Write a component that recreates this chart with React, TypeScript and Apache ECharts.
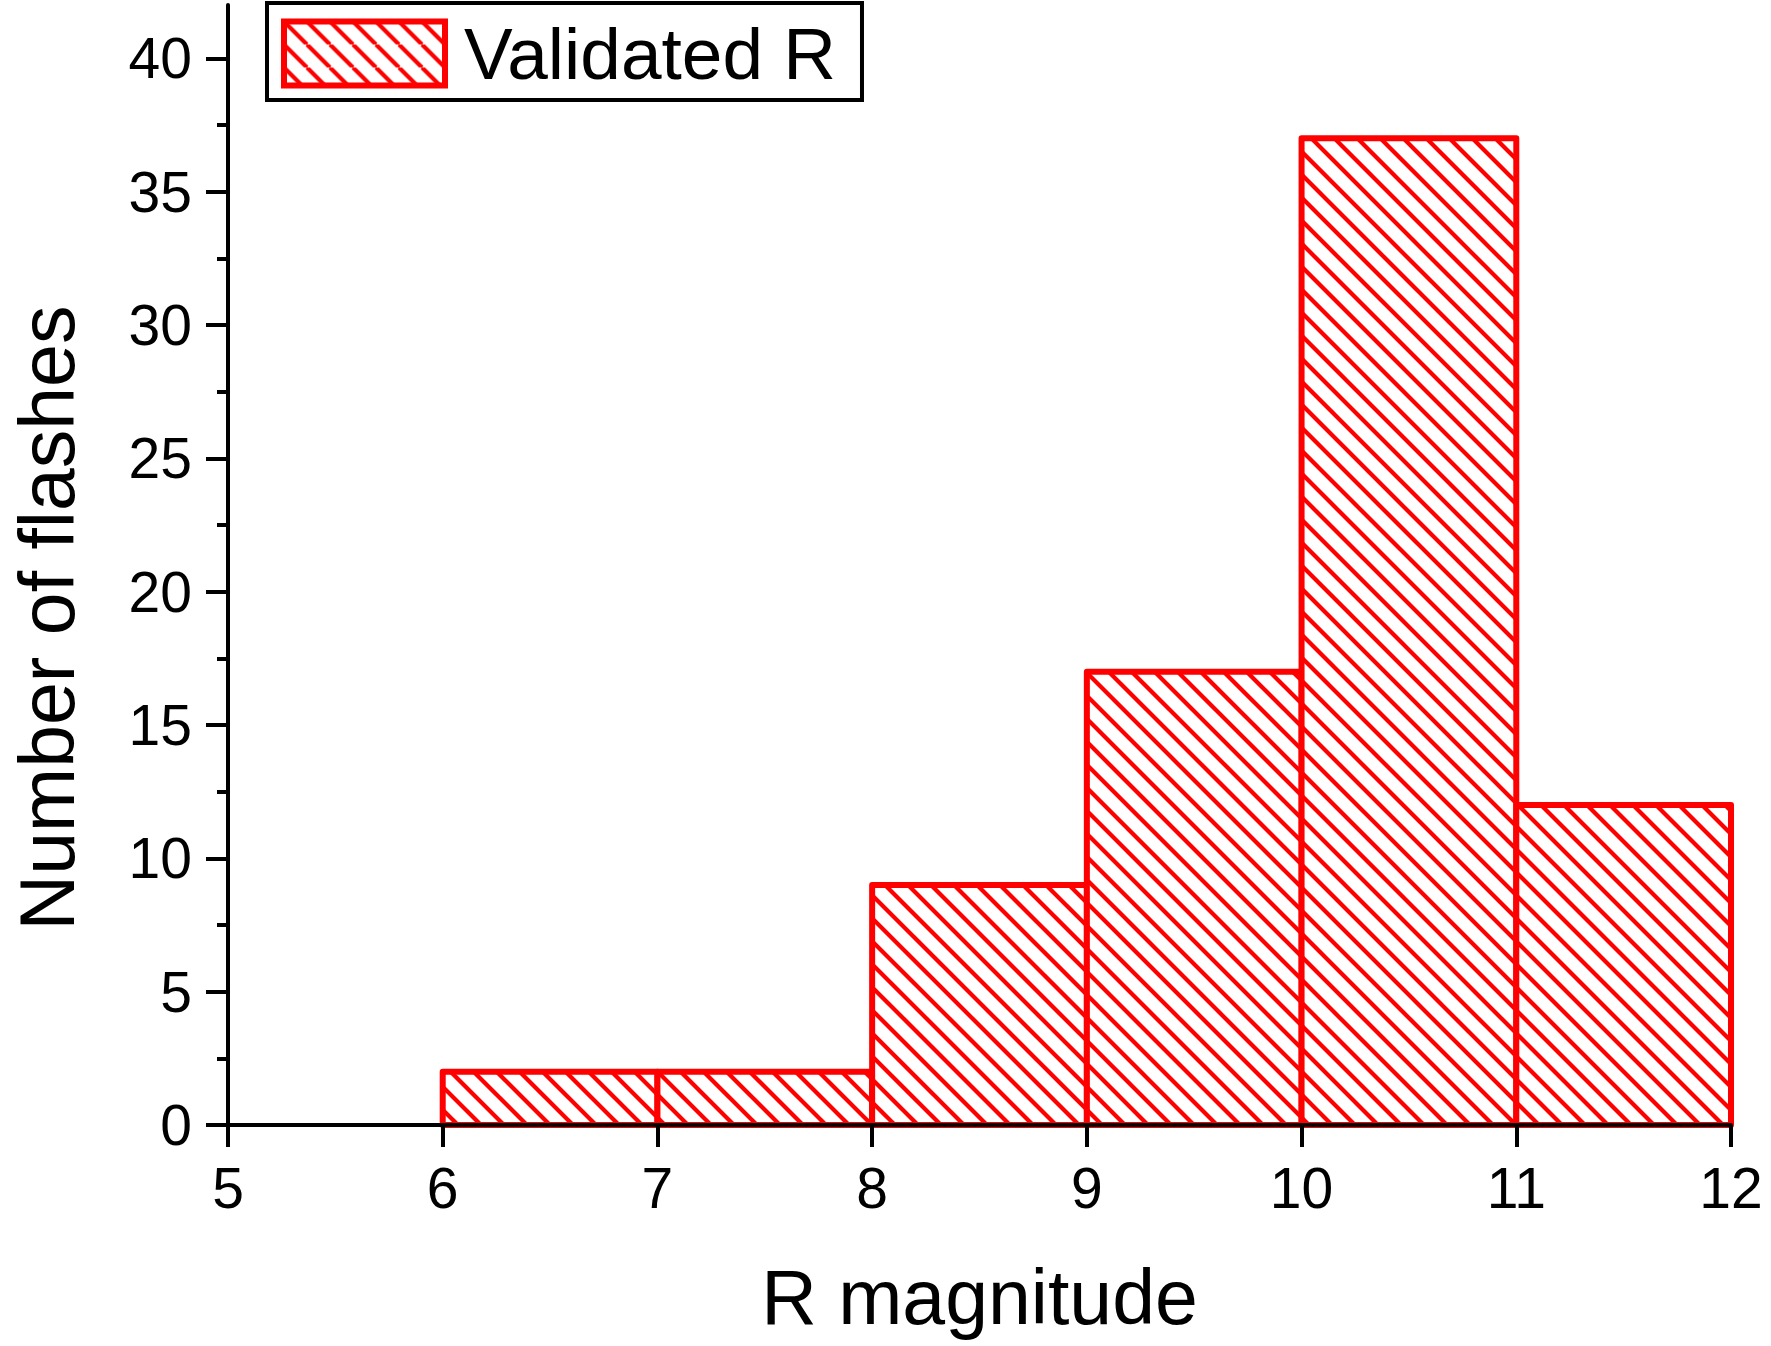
import React, { useEffect, useRef } from "react";
import * as echarts from "echarts";

const binStart = [6, 7, 8, 9, 10, 11];
const binEnd = [7, 8, 9, 10, 11, 12];
const counts = [2, 2, 9, 17, 37, 12];
const yMajorTicks = [0, 5, 10, 15, 20, 25, 30, 35, 40];
const yMinorTicks = [2.5, 7.5, 12.5, 17.5, 22.5, 27.5, 32.5, 37.5];
const seriesName = "Validated R";

const FONT = "'Liberation Sans', Arial, sans-serif";
const HATCH_STEP = 23;
const HATCH_W = 4.2;

function makeHatch(): HTMLCanvasElement {
  const s = HATCH_STEP;
  const c = document.createElement("canvas");
  c.width = s;
  c.height = s;
  const ctx = c.getContext("2d")!;
  ctx.fillStyle = "#ffffff";
  ctx.fillRect(0, 0, s, s);
  ctx.strokeStyle = "#ff0000";
  ctx.lineWidth = HATCH_W;
  ctx.beginPath();
  for (const o of [-s, 0, s]) {
    ctx.moveTo(o, 0);
    ctx.lineTo(o + s, s);
  }
  ctx.stroke();
  return c;
}

function hatchLines(x0: number, y0: number, x1: number, y1: number) {
  // lines y = x + c (screen coords), running top-left to bottom-right
  const out: any[] = [];
  const cMin = y0 - x1;
  const cMax = y1 - x0;
  const kStart = Math.ceil(cMin / HATCH_STEP);
  for (let k = kStart; k * HATCH_STEP <= cMax; k++) {
    const c = k * HATCH_STEP;
    const xa = Math.max(x0, y0 - c);
    const xb = Math.min(x1, y1 - c);
    if (xb <= xa) continue;
    out.push({
      type: "line",
      shape: { x1: xa, y1: xa + c, x2: xb, y2: xb + c },
      style: { stroke: "#ff0000", lineWidth: HATCH_W, lineCap: "butt" },
      silent: true,
    });
  }
  return out;
}

export default function App() {
  const ref = useRef<HTMLDivElement>(null);
  useEffect(() => {
    if (!ref.current) return;
    const chart = echarts.init(ref.current, undefined, { renderer: "svg" });
    const pattern: any = {
      image: makeHatch(),
      repeat: "repeat",
      imageWidth: HATCH_STEP,
      imageHeight: HATCH_STEP,
    };
    const data = binStart.map((s, i) => [s, binEnd[i], counts[i]]);
    chart.setOption({
      animation: false,
      backgroundColor: "#ffffff",
      grid: { left: 227, right: 40, top: 5, bottom: 221, containLabel: false },
      legend: {
        left: 267,
        top: 3,
        orient: "horizontal",
        padding: [14, 26, 10, 14],
        borderColor: "#000000",
        borderWidth: 4,
        itemWidth: 161,
        itemHeight: 64,
        selectedMode: false,
        textStyle: {
          fontSize: 73,
          fontFamily: FONT,
          color: "#000000",
          lineHeight: 64,
          padding: [0, 0, 0, 14],
        },
        data: [
          {
            name: seriesName,
            icon: "rect",
            itemStyle: { color: pattern, borderColor: "#ff0000", borderWidth: 6 },
          },
        ],
      },
      xAxis: {
        type: "value",
        min: 5,
        max: 12,
        interval: 1,
        z: 10,
        axisLine: { show: true, onZero: false, lineStyle: { color: "#000000", width: 4 } },
        axisTick: { show: true, inside: false, length: 22, lineStyle: { color: "#000000", width: 4 } },
        axisLabel: { fontSize: 57, fontFamily: FONT, color: "#000000", margin: 34 },
        splitLine: { show: false },
        name: "R magnitude",
        nameLocation: "middle",
        nameGap: 133,
        nameTextStyle: { fontSize: 77, fontFamily: FONT, color: "#000000" },
      },
      yAxis: [
        {
          type: "value",
          min: 0,
          max: 42,
          position: "left",
          z: 10,
          axisLine: { show: true, lineStyle: { color: "#000000", width: 4 } },
          axisTick: {
            show: true,
            inside: false,
            length: 22,
            lineStyle: { color: "#000000", width: 4 },
            customValues: yMajorTicks,
          },
          axisLabel: {
            fontSize: 57,
            fontFamily: FONT,
            color: "#000000",
            margin: 36,
            customValues: yMajorTicks,
          },
          splitLine: { show: false },
          name: "Number of flashes",
          nameLocation: "middle",
          nameGap: 143,
          nameTextStyle: {
            fontSize: 77,
            fontFamily: FONT,
            color: "#000000",
            padding: [0, 106, 0, 0],
          },
        },
        {
          type: "value",
          min: 0,
          max: 42,
          position: "left",
          z: 10,
          axisLine: { show: false },
          axisTick: {
            show: true,
            inside: false,
            length: 11,
            lineStyle: { color: "#000000", width: 4 },
            customValues: yMinorTicks,
          },
          axisLabel: { show: false },
          splitLine: { show: false },
        },
      ],
      series: [
        {
          type: "custom",
          name: seriesName,
          xAxisIndex: 0,
          yAxisIndex: 0,
          itemStyle: { color: pattern, borderColor: "#ff0000", borderWidth: 6 },
          encode: { x: [0, 1], y: 2 },
          data,
          renderItem: (params: any, api: any) => {
            const p0 = api.coord([api.value(0), 0]);
            const p1 = api.coord([api.value(1), api.value(2)]);
            const x0 = p0[0];
            const x1 = p1[0];
            const yTop = p1[1];
            const yBot = p0[1];
            return {
              type: "group",
              children: [
                {
                  type: "rect",
                  shape: { x: x0, y: yTop, width: x1 - x0, height: yBot - yTop },
                  style: { fill: "#ffffff", stroke: "none" },
                },
                ...hatchLines(x0, yTop, x1, yBot),
                {
                  type: "rect",
                  shape: { x: x0, y: yTop, width: x1 - x0, height: yBot - yTop },
                  style: {
                    fill: "none",
                    stroke: "#ff0000",
                    lineWidth: 6,
                    lineJoin: "round",
                  },
                },
              ],
            };
          },
        },
      ],
    });
    return () => chart.dispose();
  }, []);
  return (
    <div
      ref={ref}
      style={{ position: "absolute", left: 0, top: 0, width: 1771, height: 1346 }}
    />
  );
}
